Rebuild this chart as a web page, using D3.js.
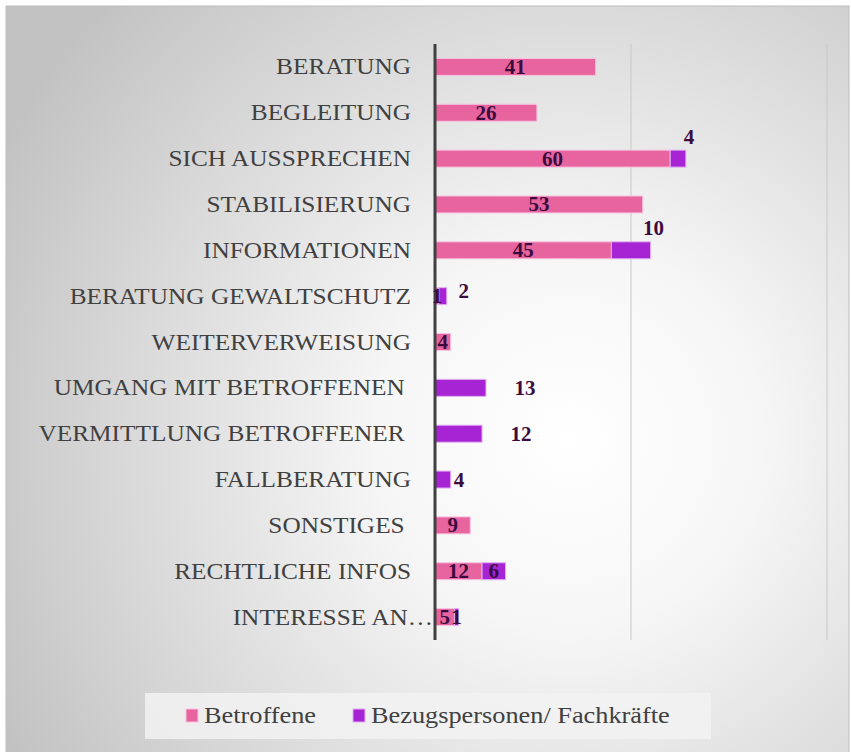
<!DOCTYPE html>
<html>
<head>
<meta charset="utf-8">
<script src="https://cdn.jsdelivr.net/npm/d3@7"></script>
<style>
  html, body { margin: 0; padding: 0; background: #fff; }
  text { font-family: "Liberation Serif", "DejaVu Serif", serif; }
</style>
</head>
<body>
<div id="chart"></div>
<script>
const width = 851;
const height = 752;

// data
const categories = ["BERATUNG", "BEGLEITUNG", "SICH AUSSPRECHEN", "STABILISIERUNG", "INFORMATIONEN",
    "BERATUNG GEWALTSCHUTZ", "WEITERVERWEISUNG", "UMGANG MIT BETROFFENEN ", "VERMITTLUNG BETROFFENER ",
    "FALLBERATUNG", "SONSTIGES ", "RECHTLICHE INFOS", "INTERESSE AN\u2026"];
const betroffene = [41, 26, 60, 53, 45, 1, 4, 0, 0, 0, 9, 12, 5];
const bezug = [0, 0, 4, 0, 10, 2, 0, 13, 12, 4, 0, 6, 1];
const seriesNames = ["Betroffene", "Bezugspersonen/ Fachkräfte"];
const gridTicks = [50, 100];
// where the purple value labels sit (as in the original slide)
const bezugLabelPlace = ["", "", "above", "", "above", "upright", "", "far", "far", "next", "", "inside", "inside"];

const pink = "#e8649f";
const purple = "#a624d3";
const labelCol = "#3b0b40";
const stretch = 1.125; // the original font (Palatino-like) runs wider

const svg = d3.select("#chart").append("svg")
    .attr("width", width)
    .attr("height", height);

const defs = svg.append("defs");
const grad = defs.append("radialGradient")
    .attr("id", "bg")
    .attr("gradientUnits", "userSpaceOnUse")
    .attr("cx", 570).attr("cy", 440).attr("r", 640);
grad.append("stop").attr("offset", 0).attr("stop-color", "#ffffff");
grad.append("stop").attr("offset", 0.3).attr("stop-color", "#f6f6f6");
grad.append("stop").attr("offset", 1).attr("stop-color", "#c2c2c2");

svg.append("rect")
    .attr("x", 6).attr("y", 6)
    .attr("width", 843).attr("height", 760)
    .attr("fill", "url(#bg)")
    .attr("stroke", "#bdbdbd")
    .attr("stroke-width", 1);

const x = d3.scaleLinear().domain([0, 100]).range([435, 827]);
const y = d3.scaleBand().domain(categories).range([44, 640]).paddingInner(0.63).paddingOuter(0.315);

// gridlines
svg.append("g")
    .selectAll("line")
    .data(gridTicks)
    .enter()
    .append("line")
    .attr("x1", d => x(d)).attr("x2", d => x(d))
    .attr("y1", 44).attr("y2", 640)
    .attr("stroke", "#c8c8c8")
    .attr("stroke-width", 1);

const rows = categories.map((c, i) => ({cat: c, a: betroffene[i], b: bezug[i], place: bezugLabelPlace[i]}));

// pink bars
svg.append("g")
    .selectAll("rect")
    .data(rows.filter(d => d.a > 0))
    .enter()
    .append("rect")
    .attr("x", x(0))
    .attr("y", d => y(d.cat))
    .attr("width", d => x(d.a) - x(0))
    .attr("height", y.bandwidth())
    .attr("fill", pink)
    .attr("stroke", "#f7c4e0")
    .attr("stroke-width", 1);

// purple bars
svg.append("g")
    .selectAll("rect")
    .data(rows.filter(d => d.b > 0))
    .enter()
    .append("rect")
    .attr("x", d => x(d.a))
    .attr("y", d => y(d.cat))
    .attr("width", d => x(d.a + d.b) - x(d.a))
    .attr("height", y.bandwidth())
    .attr("fill", purple)
    .attr("stroke", "#e2b0f0")
    .attr("stroke-width", 1);

// category labels (the truncated one spills over to the axis, as in the original)
svg.append("g")
    .selectAll("g")
    .data(categories)
    .enter()
    .append("g")
    .attr("transform", d => "translate(" + (d.endsWith("\u2026") ? 433 : 411) + "," + (y(d) + y.bandwidth() / 2 + 7.5) + ") scale(" + stretch + ",1)")
    .append("text")
    .attr("text-anchor", "end")
    .style("white-space", "pre")
    .attr("font-size", 22.5)
    .attr("fill", "#404040")
    .text(d => d);

// axis line
svg.append("line")
    .attr("x1", x(0)).attr("x2", x(0))
    .attr("y1", 44).attr("y2", 640)
    .attr("stroke", "#404040")
    .attr("stroke-width", 3);

// value labels
const mid = d => y(d.cat) + y.bandwidth() / 2;
svg.append("g")
    .selectAll("text")
    .data(rows.filter(d => d.a > 0))
    .enter()
    .append("text")
    .attr("x", d => (x(0) + x(d.a)) / 2)
    .attr("y", d => mid(d) + 7)
    .attr("text-anchor", "middle")
    .attr("font-size", 21)
    .attr("font-weight", "bold")
    .attr("fill", labelCol)
    .text(d => d.a);

const nudge = {
    inside: d => [(x(d.a) + x(d.a + d.b)) / 2, 0, "middle"],
    above: d => [x(d.a + d.b) + 3, -22, "middle"],
    upright: d => [x(d.a + d.b) + 17, -5, "middle"],
    far: d => [x(d.a + d.b) + 39, 0, "middle"],
    next: d => [x(d.a + d.b) + 3, 0, "start"]
};
svg.append("g")
    .selectAll("text")
    .data(rows.filter(d => d.b > 0))
    .enter()
    .append("text")
    .each(function(d) {
        const p = nudge[d.place](d);
        d3.select(this)
            .attr("x", p[0])
            .attr("y", mid(d) + p[1] + 7)
            .attr("text-anchor", p[2]);
    })
    .attr("font-size", 21)
    .attr("font-weight", "bold")
    .attr("fill", labelCol)
    .text(d => d.b);

// legend
const legend = svg.append("g");
legend.append("rect")
    .attr("x", 145).attr("y", 693)
    .attr("width", 566).attr("height", 46)
    .attr("fill", "#f2f2f2")
    .attr("opacity", 0.85);

const legItems = [{name: seriesNames[0], col: pink, stroke: "#f7c4e0", x: 186},
                  {name: seriesNames[1], col: purple, stroke: "#e2b0f0", x: 353}];
legend.selectAll("rect.sw")
    .data(legItems)
    .enter()
    .append("rect")
    .attr("class", "sw")
    .attr("x", d => d.x).attr("y", 709)
    .attr("width", 12).attr("height", 13)
    .attr("fill", d => d.col)
    .attr("stroke", d => d.stroke);
legend.selectAll("g.lt")
    .data(legItems)
    .enter()
    .append("g")
    .attr("class", "lt")
    .attr("transform", d => "translate(" + (d.x + 18) + ",723) scale(1.17,1)")
    .append("text")
    .attr("font-size", 22.5)
    .attr("fill", "#404040")
    .text(d => d.name);
</script>
</body>
</html>
